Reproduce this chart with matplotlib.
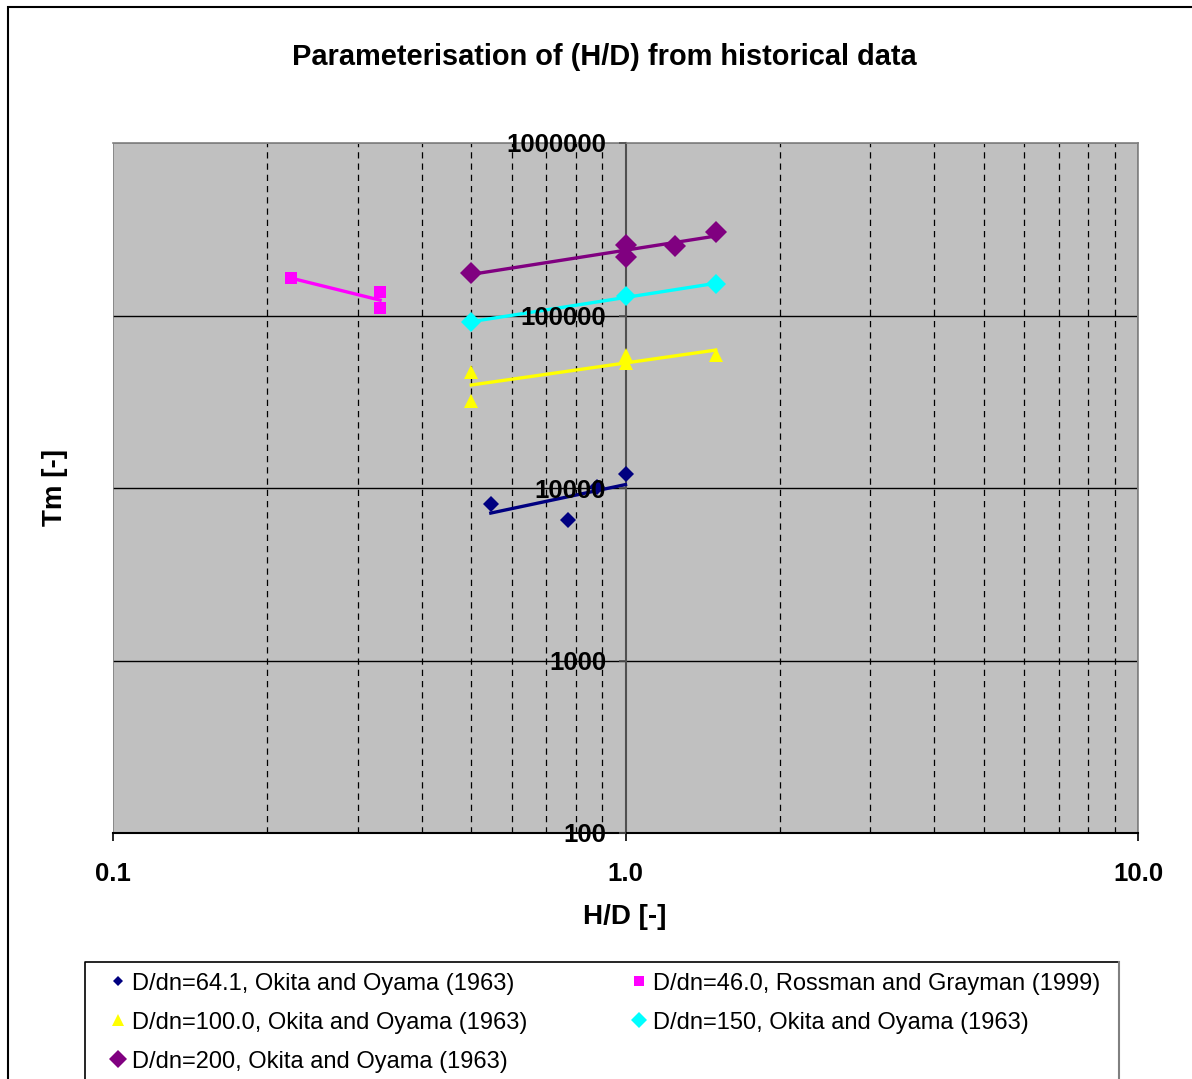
import numpy as np
import matplotlib
matplotlib.use("Agg")
import matplotlib.pyplot as plt
from matplotlib.patches import Rectangle
from matplotlib.lines import Line2D
from matplotlib.ticker import FixedLocator, NullLocator, FixedFormatter

plt.rcParams['font.family'] = ['Liberation Sans', 'DejaVu Sans']

# Okita and Oyama (1963), D/dn = 64.1
hd_641 = [0.546, 0.772, 0.88, 1.0]
tm_641 = [8100, 6500, 10150, 12050]

# Rossman and Grayman (1999), D/dn = 46.0
hd_460 = [0.222, 0.332, 0.332]
tm_460 = [165000, 137000, 110000]

# Okita and Oyama (1963), D/dn = 100.0
hd_100 = [0.5, 0.5, 1.0, 1.0, 1.5]
tm_100 = [47000, 32000, 59000, 53000, 59000]

# Okita and Oyama (1963), D/dn = 150
hd_150 = [0.5, 1.0, 1.5]
tm_150 = [91500, 129500, 152000]

# Okita and Oyama (1963), D/dn = 200
hd_200 = [0.5, 1.0, 1.0, 1.25, 1.5]
tm_200 = [176000, 256000, 218000, 253000, 305000]

labels = [
    "D/dn=64.1, Okita and Oyama (1963)",
    "D/dn=46.0, Rossman and Grayman (1999)",
    "D/dn=100.0, Okita and Oyama (1963)",
    "D/dn=150, Okita and Oyama (1963)",
    "D/dn=200, Okita and Oyama (1963)",
]

x_ticks = [0.1, 1.0, 10.0]
x_ticklabels = ["0.1", "1.0", "10.0"]
y_ticks = [100, 1000, 10000, 100000, 1000000]
y_ticklabels = ["100", "1000", "10000", "100000", "1000000"]

series = [
    (hd_641, tm_641, "#000080", "D", 8, 5),
    (hd_460, tm_460, "#FF00FF", "s", 8, 7),
    (hd_100, tm_100, "#FFFF00", "^", 10, 8),
    (hd_150, tm_150, "#00FFFF", "D", 10, 8),
    (hd_200, tm_200, "#800080", "D", 11, 9),
]

W, H = 1192, 1079
fig = plt.figure(figsize=(W / 100, H / 100), dpi=100)
fig.patch.set_facecolor("white")

# outer chart frame
fig.add_artist(Rectangle((8 / W, -0.01), 1.2, 1 - 7 / H + 0.01,
                         transform=fig.transFigure, fill=False,
                         edgecolor="black", linewidth=1.5))

ax = fig.add_axes([113 / W, 1 - 833 / H, (1138 - 113) / W, (833 - 143) / H])
ax.set_facecolor("#C0C0C0")
ax.set_xscale("log")
ax.set_yscale("log")
ax.set_xlim(0.1, 10)
ax.set_ylim(100, 1000000)

# grid: dashed verticals at minor decades, solid horizontals at decades
minor_x = [m * d for d in (0.1, 1.0) for m in range(2, 10)]
for xv in minor_x:
    ax.axvline(xv, color="black", linestyle=(0, (5, 4)), linewidth=0.9, zorder=0.5)
for yv in y_ticks[1:-1]:
    ax.axhline(yv, color="black", linewidth=1.0, zorder=0.5)

handles = []
for hd, tm, col, mk, ms, lms in series:
    ax.plot(hd, tm, linestyle="none", marker=mk, color=col,
            markersize=ms, markeredgewidth=0, zorder=3)
    handles.append(Line2D([], [], linestyle="none", marker=mk, color=col,
                          markersize=lms, markeredgewidth=0))
    # power-law trend line fitted to the series
    lx, ly = np.log10(hd), np.log10(tm)
    b, a = np.polyfit(lx, ly, 1)
    xs = np.logspace(lx.min(), lx.max(), 50)
    ax.plot(xs, 10 ** (a + b * np.log10(xs)), color=col, linewidth=2.4, zorder=2.8)

# spines: y axis crosses at H/D = 1.0
for s in ("top", "right"):
    ax.spines[s].set_color("#808080")
    ax.spines[s].set_linewidth(1.2)
ax.spines["left"].set_position(("data", 1.0))
ax.spines["left"].set_color("#505050")
ax.spines["left"].set_linewidth(1.5)
ax.spines["left"].set_zorder(1)
ax.spines["bottom"].set_color("black")
ax.spines["bottom"].set_linewidth(1.5)
# left border of the plot area
ax.add_artist(Rectangle((0, 0), 1, 1, transform=ax.transAxes, fill=False,
                        edgecolor="#808080", linewidth=1.2, zorder=0.6))

ax.xaxis.set_major_locator(FixedLocator(x_ticks))
ax.xaxis.set_major_formatter(FixedFormatter(x_ticklabels))
ax.xaxis.set_minor_locator(NullLocator())
ax.yaxis.set_major_locator(FixedLocator(y_ticks))
ax.yaxis.set_major_formatter(FixedFormatter(y_ticklabels))
ax.yaxis.set_minor_locator(NullLocator())
ax.tick_params(axis="x", direction="out", length=6, width=1.2, pad=15,
               labelsize=18.5, color="black")
ax.tick_params(axis="y", direction="out", length=5, width=1.2, pad=9,
               labelsize=18.5, color="#505050")
for t in ax.get_xticklabels() + ax.get_yticklabels():
    t.set_fontweight("bold")
ax.yaxis.set_zorder(5)

fig.text(604 / W, 1 - 57 / H, "Parameterisation of (H/D) from historical data",
         ha="center", va="center", fontsize=20.9, fontweight="bold")
fig.text(625 / W, 1 - 917 / H, "H/D [-]", ha="center", va="center",
         fontsize=20, fontweight="bold")
fig.text(55 / W, 1 - 488 / H, "Tm [-]", ha="center", va="center",
         fontsize=20, fontweight="bold", rotation=90)

# legend box: dark top/left edges, grey right edge
lx0, lx1, ly0 = 85 / W, 1119 / W, 1 - 962 / H
fig.add_artist(Rectangle((lx0, -0.01), lx1 - lx0, ly0 + 0.01,
                         transform=fig.transFigure, facecolor="white",
                         edgecolor="none", zorder=1))
fig.add_artist(Line2D([lx0, lx0, lx1], [-0.01, ly0, ly0], color="black",
                      linewidth=1.2, transform=fig.transFigure, zorder=2))
fig.add_artist(Line2D([lx1, lx1], [ly0, -0.01], color="#808080",
                      linewidth=1.5, transform=fig.transFigure, zorder=2))

# legend laid out row by row in two columns
order = [0, 2, 4, 1, 3]
leg = fig.legend([handles[i] for i in order], [labels[i] for i in order],
                 ncol=2, loc="upper left", mode="expand",
                 bbox_to_anchor=(100 / W, ly0, (1111 - 100) / W, 0),
                 bbox_transform=fig.transFigure, borderaxespad=0,
                 fontsize=17, frameon=False,
                 handlelength=0.6, handletextpad=0.3, labelspacing=0.72,
                 borderpad=0.45, columnspacing=1.0)
leg.set_zorder(3)

fig.savefig("out.png", dpi=100)
